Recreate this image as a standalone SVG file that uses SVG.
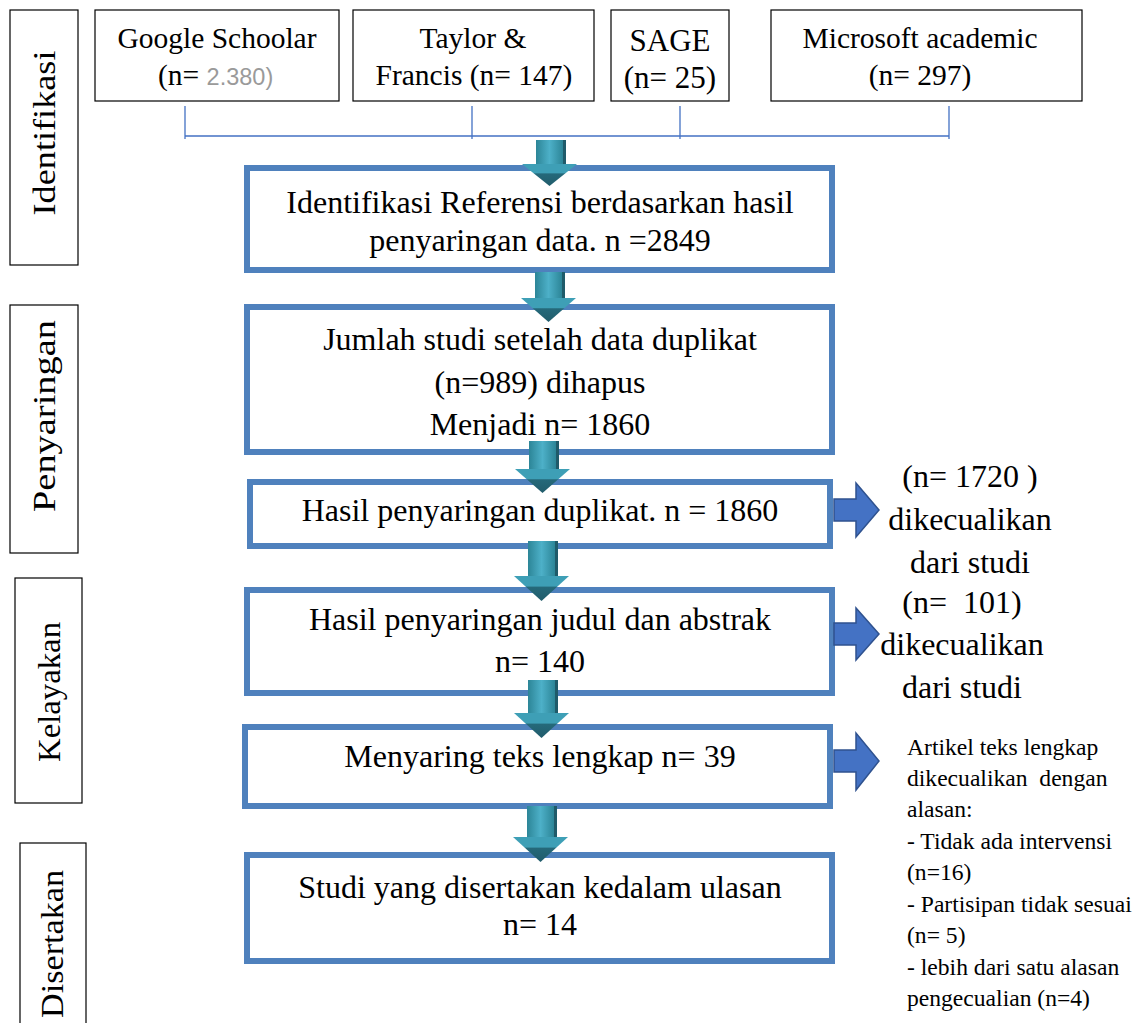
<svg xmlns="http://www.w3.org/2000/svg" width="1146" height="1023" viewBox="0 0 1146 1023">
<defs>
<style>
.src{fill:#fff;stroke:#000;stroke-width:1.2}
.stage{fill:#fff;stroke:#000;stroke-width:1.2}
.flow{fill:#fff;stroke:#4F81BD;stroke-width:6}
.t{font-family:"Liberation Serif","Times New Roman",serif;fill:#000}
.t28{font-size:29.5px}
.t32{font-size:32px}
.t23{font-size:23.6px}
.c{text-anchor:middle}
.gray{font-family:"Liberation Sans",Arial,sans-serif;fill:#9a9a9a;font-size:23.5px}
.br{stroke:#4472C4;stroke-width:1.3;fill:none}
.rarr{fill:#4472C4;stroke:#2F528F;stroke-width:1.5}
.sh{fill:#1F5B6A}
.sf{fill:url(#shaft)}
.hd{fill:url(#head)}
</style>
<linearGradient id="shaft" x1="0" y1="0" x2="1" y2="0">
<stop offset="0" stop-color="#2C8597"/>
<stop offset="0.5" stop-color="#4DB0C8"/>
<stop offset="1" stop-color="#2C8597"/>
</linearGradient>
<linearGradient id="head" x1="0" y1="0" x2="0" y2="1">
<stop offset="0" stop-color="#3E9FB6"/>
<stop offset="0.4" stop-color="#3E9FB6"/>
<stop offset="0.45" stop-color="#25697A"/>
<stop offset="1" stop-color="#215C6B"/>
</linearGradient>
</defs>

<g id="stages">
<g id="stage-identifikasi"><rect class="stage" x="10" y="10" width="68" height="255"/><text class="t t32 c" transform="translate(55,133) rotate(-90)" textLength="165" lengthAdjust="spacingAndGlyphs">Identifikasi</text></g>
<g id="stage-penyaringan"><rect class="stage" x="10" y="305" width="68" height="248"/><text class="t t32 c" transform="translate(55,416) rotate(-90)" textLength="192" lengthAdjust="spacingAndGlyphs">Penyaringan</text></g>
<g id="stage-kelayakan"><rect class="stage" x="15" y="578" width="67" height="225"/><text class="t t32 c" transform="translate(60,692) rotate(-90)" textLength="140" lengthAdjust="spacingAndGlyphs">Kelayakan</text></g>
<g id="stage-disertakan"><rect class="stage" x="20" y="843" width="66" height="190"/><text class="t t32 c" transform="translate(63,944) rotate(-90)" textLength="148" lengthAdjust="spacingAndGlyphs">Disertakan</text></g>
</g>

<g id="sources">
<g id="src-google"><rect class="src" x="95" y="10" width="244" height="91"/><text class="t t28 c" x="217" y="48">Google Schoolar</text><text class="t t28" x="158" y="85">(n= <tspan class="gray">2.380)</tspan></text></g>
<g id="src-taylor"><rect class="src" x="353" y="10" width="241" height="91"/><text class="t t28 c" x="473" y="48">Taylor &amp;</text><text class="t t28 c" x="474" y="85">Francis (n= 147)</text></g>
<g id="src-sage"><rect class="src" x="611" y="10" width="118" height="91"/><text class="t c" font-size="31" x="670" y="51">SAGE</text><text class="t c" font-size="31" x="670" y="88">(n= 25)</text></g>
<g id="src-microsoft"><rect class="src" x="771" y="10" width="311" height="91"/><text class="t t28 c" x="920" y="48">Microsoft academic</text><text class="t t28 c" x="920" y="85">(n= 297)</text></g>
</g>

<g id="flow">
<g id="box-identifikasi"><rect class="flow" x="247" y="168" width="585" height="102"/><text class="t t32 c" x="540" y="213">Identifikasi Referensi berdasarkan hasil</text><text class="t t32 c" x="540" y="251">penyaringan data. n =2849</text></g>
<g id="box-jumlah"><rect class="flow" x="247" y="307" width="585" height="145"/><text class="t t32 c" x="540" y="350">Jumlah studi setelah data duplikat</text><text class="t t32 c" x="540" y="393">(n=989) dihapus</text><text class="t t32 c" x="540" y="435">Menjadi n= 1860</text></g>
<g id="box-duplikat"><rect class="flow" x="250" y="482" width="580" height="64"/><text class="t t32 c" x="540" y="521">Hasil penyaringan duplikat. n = 1860</text></g>
<g id="box-judul"><rect class="flow" x="247" y="590" width="585" height="103"/><text class="t t32 c" x="540" y="630">Hasil penyaringan judul dan abstrak</text><text class="t t32 c" x="540" y="672">n= 140</text></g>
<g id="box-teks"><rect class="flow" x="245" y="727" width="585" height="79"/><text class="t t32 c" x="540" y="767">Menyaring teks lengkap n= 39</text></g>
<g id="box-studi"><rect class="flow" x="247" y="855" width="585" height="106"/><text class="t t32 c" x="540" y="898">Studi yang disertakan kedalam ulasan</text><text class="t t32 c" x="540" y="935">n= 14</text></g>
</g>

<g id="connectors">
<path class="br" d="M185,106V139M472,106V139M680,106V139M949,106V139M185,136H949"/>
<g transform="translate(536,140)"><rect class="sh" x="3" y="0" width="27" height="26"/><rect class="sf" x="0" y="0" width="27" height="26"/><polygon class="hd" points="-14,24 41,24 13.5,46"/></g>
<g transform="translate(535,272)"><rect class="sh" x="3" y="0" width="27" height="28"/><rect class="sf" x="0" y="0" width="27" height="28"/><polygon class="hd" points="-14,26 41,26 13.5,50"/></g>
<g transform="translate(529,441)"><rect class="sh" x="3" y="0" width="27" height="30"/><rect class="sf" x="0" y="0" width="27" height="30"/><polygon class="hd" points="-14,28 41,28 13.5,52"/></g>
<g transform="translate(528,541)"><rect class="sh" x="3" y="0" width="27" height="37"/><rect class="sf" x="0" y="0" width="27" height="37"/><polygon class="hd" points="-14,35 41,35 13.5,60"/></g>
<g transform="translate(528,680)"><rect class="sh" x="3" y="0" width="27" height="35"/><rect class="sf" x="0" y="0" width="27" height="35"/><polygon class="hd" points="-14,33 41,33 13.5,58"/></g>
<g transform="translate(527,806)"><rect class="sh" x="3" y="0" width="27" height="33"/><rect class="sf" x="0" y="0" width="27" height="33"/><polygon class="hd" points="-14,31 41,31 13.5,56"/></g>
<polygon class="rarr" points="834,499 856,499 856,483 879,510 856,537 856,521 834,521"/>
<polygon class="rarr" points="834,623 856,623 856,608 879,634 856,660 856,645 834,645"/>
<polygon class="rarr" points="834,750 856,750 856,733 879,761 856,790 856,772 834,772"/>
</g>

<g id="excluded">
<g id="ex-1720"><text class="t t32 c" x="970" y="487">(n= 1720 )</text><text class="t t32 c" x="970" y="530">dikecualikan</text><text class="t t32 c" x="970" y="573">dari studi</text></g>
<g id="ex-101"><text class="t t32 c" x="962" y="613" xml:space="preserve">(n=  101)</text><text class="t t32 c" x="962" y="655">dikecualikan</text><text class="t t32 c" x="962" y="698">dari studi</text></g>
<g id="ex-fulltext" class="t t23">
<text x="907" y="755">Artikel teks lengkap</text>
<text x="907" y="786" xml:space="preserve">dikecualikan  dengan</text>
<text x="907" y="817">alasan:</text>
<text x="907" y="849">- Tidak ada intervensi</text>
<text x="907" y="880">(n=16)</text>
<text x="907" y="912">- Partisipan tidak sesuai</text>
<text x="907" y="943">(n= 5)</text>
<text x="907" y="975">- lebih dari satu alasan</text>
<text x="907" y="1006">pengecualian (n=4)</text>
</g>
</g>
</svg>
